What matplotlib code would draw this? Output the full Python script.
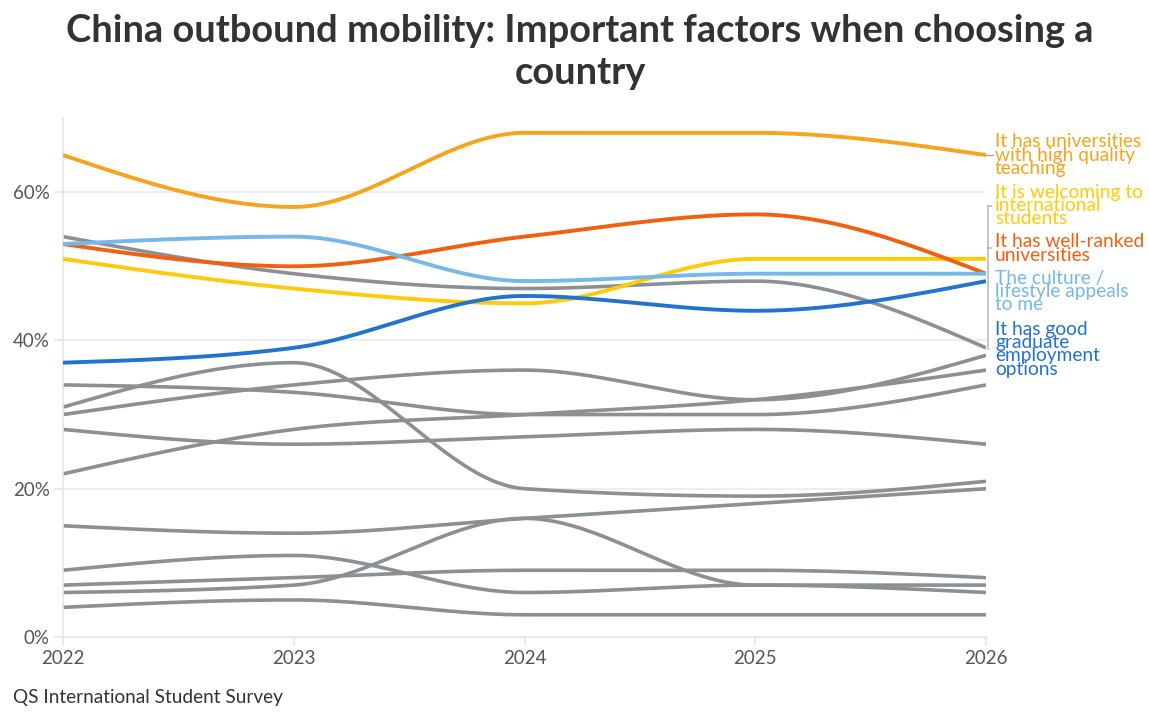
import numpy as np
import matplotlib.pyplot as plt
import matplotlib.transforms as mtransforms

years = [2022, 2023, 2024, 2025, 2026]

# highlighted factors (share of respondents, %)
quality_teaching = [65, 58, 68, 68, 65]
well_ranked = [53, 50, 54, 57, 49]
welcoming = [51, 47, 45, 51, 51]
culture = [53, 54, 48, 49, 49]
graduate_jobs = [37, 39, 46, 44, 48]

# other factors, drawn in grey
grey_series = [
    [54, 49, 47, 48, 39],
    [31, 37, 20, 19, 21],
    [34, 33, 30, 30, 34],
    [30, 34, 36, 32, 38],
    [22, 28, 30, 32, 36],
    [28, 26, 27, 28, 26],
    [15, 14, 16, 18, 20],
    [9, 11, 6, 7, 6],
    [7, 8, 9, 9, 8],
    [6, 7, 16, 7, 7],
    [4, 5, 3, 3, 3],
]

labels = [
    "It has universities\nwith high quality\nteaching",
    "It is welcoming to\ninternational\nstudents",
    "It has well-ranked\nuniversities",
    "The culture /\nlifestyle appeals\nto me",
    "It has good\ngraduate\nemployment\noptions",
]
label_y = [65.0, 58.2, 52.4, 46.6, 38.8]
colors = ["#F5A41C", "#FFCA0A", "#F2600F", "#76B8E8", "#2272D0"]
series = [quality_teaching, welcoming, well_ranked, culture, graduate_jobs]

GREY = "#8A9094"


def monotone(x, y, n=40):
    # d3 curveMonotoneX style interpolation
    x = np.asarray(x, float)
    y = np.asarray(y, float)
    h = np.diff(x)
    s = np.diff(y) / h
    t = np.zeros(len(x))
    for i in range(1, len(x) - 1):
        p = (s[i - 1] * h[i] + s[i] * h[i - 1]) / (h[i - 1] + h[i])
        t[i] = (np.sign(s[i - 1]) + np.sign(s[i])) * min(abs(s[i - 1]), abs(s[i]), 0.5 * abs(p))
    t[0] = (3 * s[0] - t[1]) / 2
    t[-1] = (3 * s[-1] - t[-2]) / 2
    xs, ys = [], []
    for i in range(len(x) - 1):
        u = np.linspace(0, 1, n)
        h00 = 2 * u**3 - 3 * u**2 + 1
        h10 = u**3 - 2 * u**2 + u
        h01 = -2 * u**3 + 3 * u**2
        h11 = u**3 - u**2
        xs.append(x[i] + u * h[i])
        ys.append(h00 * y[i] + h10 * h[i] * t[i] + h01 * y[i + 1] + h11 * h[i] * t[i + 1])
    return np.concatenate(xs), np.concatenate(ys)


plt.rcParams['font.family'] = ['Lato', 'DejaVu Sans']

fig = plt.figure(figsize=(11.49, 7.13), dpi=100)
ax = fig.add_axes([63 / 1149, 1 - 637 / 713, (986 - 63) / 1149, (637 - 118) / 713])

for vals in grey_series:
    xs, ys = monotone(years, vals)
    ax.plot(xs, ys, color=GREY, lw=2.6, solid_capstyle='butt', zorder=2)

for vals, c in zip(series, colors):
    xs, ys = monotone(years, vals)
    ax.plot(xs, ys, color=c, lw=2.8, solid_capstyle='butt', zorder=3)

ax.set_xlim(2022, 2026)
ax.set_ylim(0, 70)
ax.set_xticks(years)
ax.set_xticklabels([str(y) for y in years])
ax.set_yticks([0, 20, 40, 60])
ax.set_yticklabels(["0%", "20%", "40%", "60%"])
ax.grid(axis='y', color='#EBEBEB', lw=1.2)
ax.set_axisbelow(True)
for side in ['top', 'right']:
    ax.spines[side].set_visible(False)
for side in ['left', 'bottom']:
    ax.spines[side].set_color('#E6E6E6')
    ax.spines[side].set_linewidth(1.2)
ax.tick_params(colors='#E6E6E6', length=6.5, width=1.2, labelcolor='#555555', labelsize=13.5)
ax.tick_params(axis='x', pad=3)
ax.tick_params(axis='y', pad=3)

# labels at the line ends
off = mtransforms.offset_copy(ax.transData, fig=fig, x=9, y=0, units='dots')
for lab, ly, c in zip(labels, label_y, colors):
    ax.text(2026, ly, lab, transform=off, color=c, fontsize=13.8,
            va='center', ha='left', linespacing=0.725, clip_on=False)

# connectors
ax.plot([2026, 2026 + 7 / 230.75], [65, 65], color='#AAAAAA', lw=1, clip_on=False)
bx = 2026 + 2 / 230.75
ax.plot([bx, bx], [58.1, 38.9], color='#BBBBBB', lw=1.2, clip_on=False)
ax.plot([bx, bx + 3 / 230.75], [58.1, 58.1], color='#BBBBBB', lw=1.2, clip_on=False)
ax.plot([bx, bx + 3 / 230.75], [52.4, 52.4], color='#BBBBBB', lw=1.2, clip_on=False)

fig.text(0.505, 1 - 52 / 713,
         "China outbound mobility: Important factors when choosing a\ncountry",
         ha='center', va='center', fontsize=27.4, fontweight='bold', color='#333333',
         linespacing=1.25)
fig.text(13 / 1149, 1 - 697 / 713, "QS International Student Survey",
         ha='left', va='center', fontsize=13.7, color='#333333')

fig.savefig('out.png', dpi=100)
